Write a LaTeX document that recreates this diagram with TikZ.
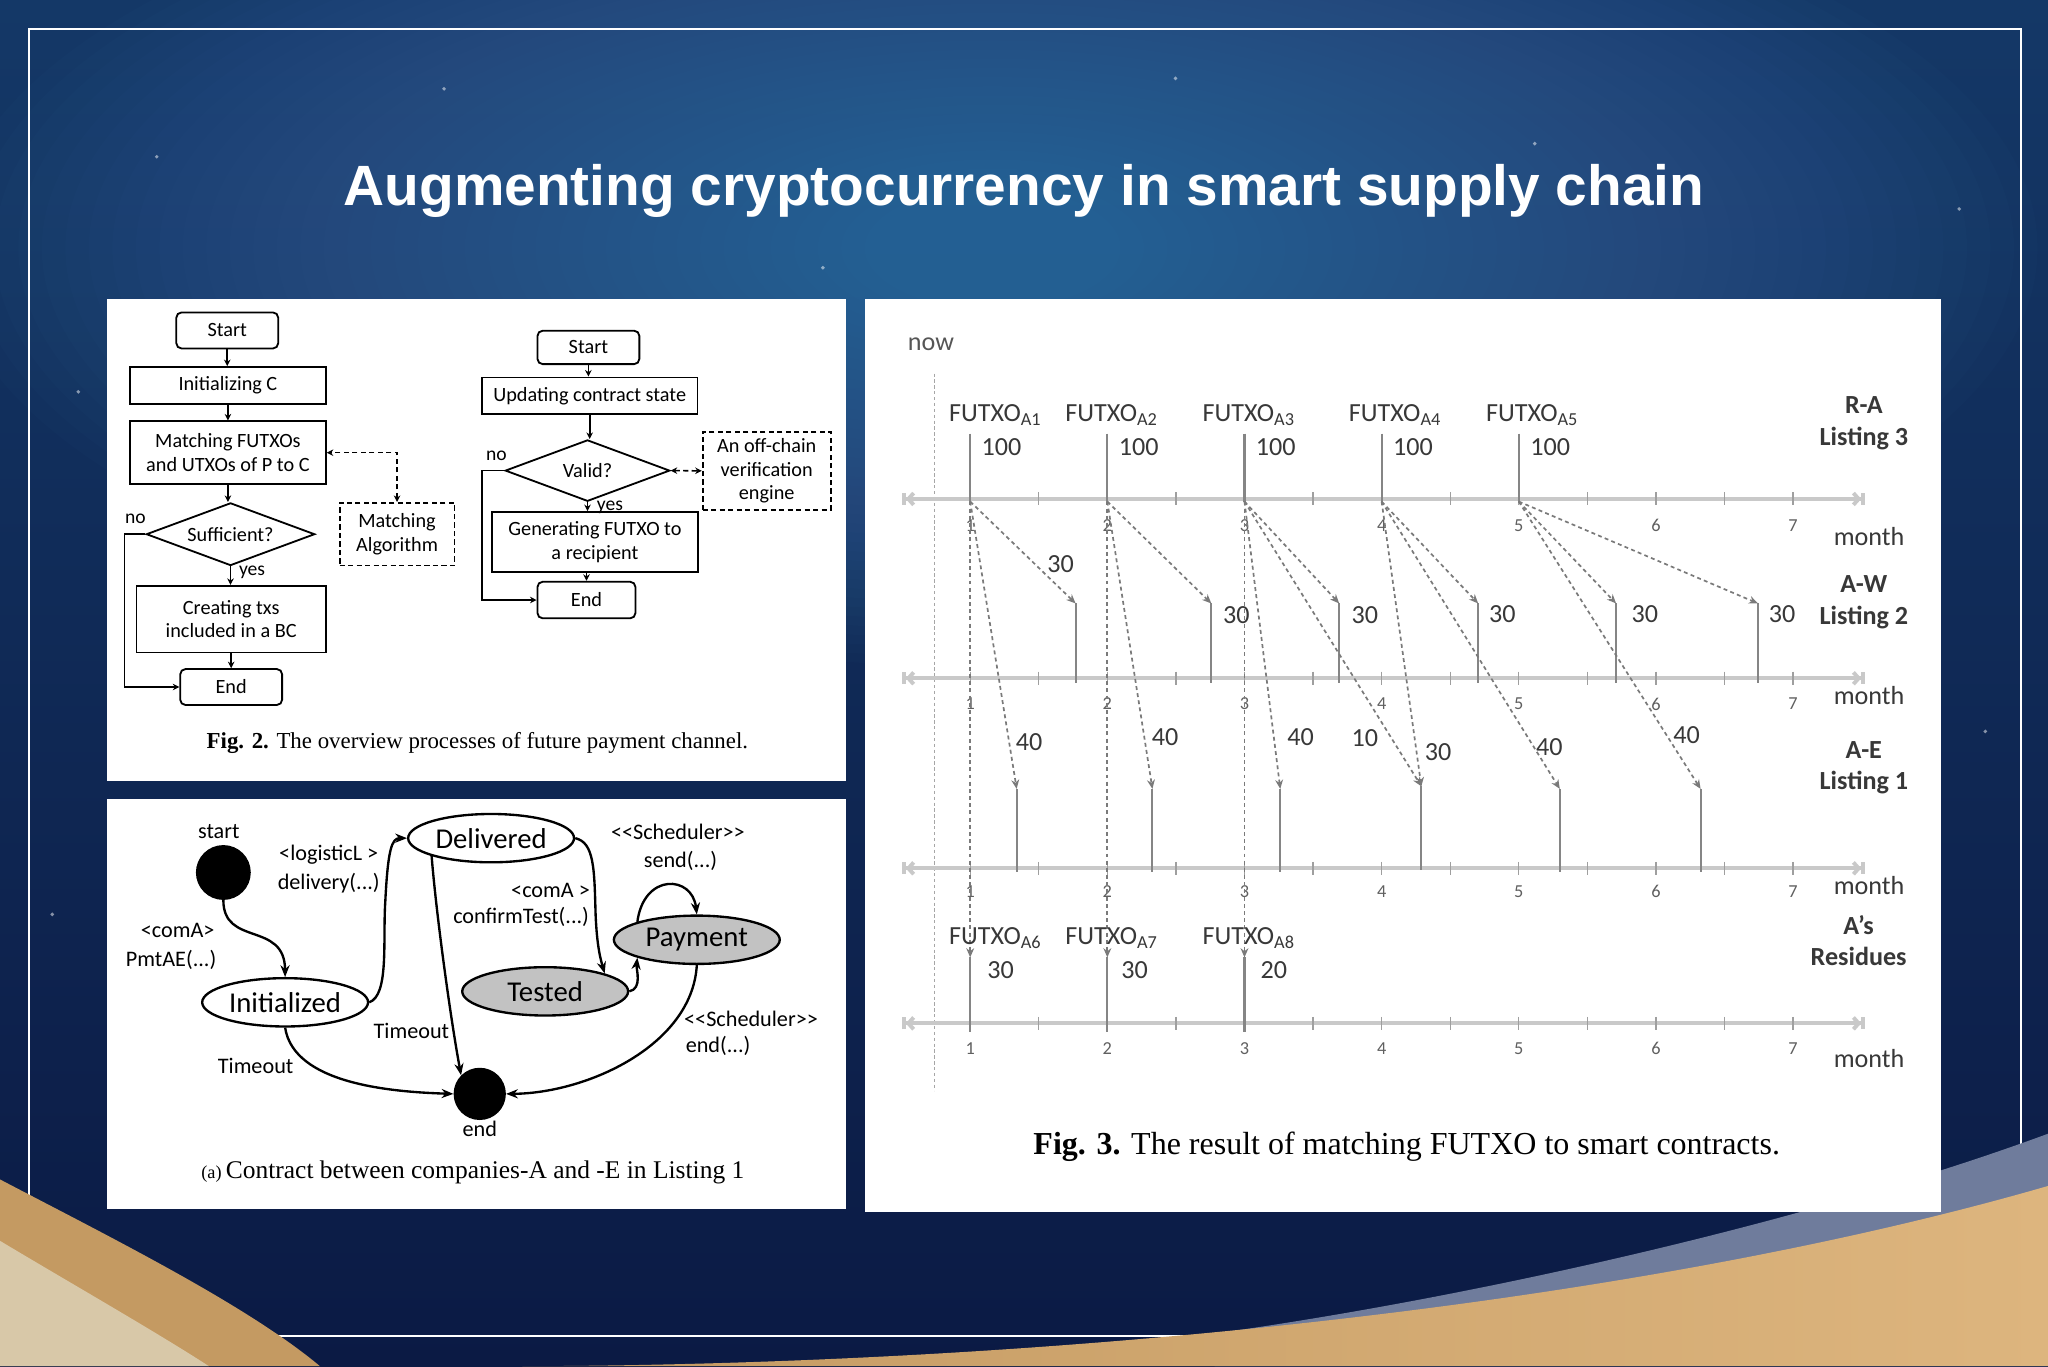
\documentclass[tikz,border=0pt]{standalone}
\usepackage{fontspec}
\setmainfont{Liberation Serif}
\newfontfamily\carl{Carlito}
\newfontfamily\arialf{Liberation Sans}
\usetikzlibrary{arrows.meta,shapes.geometric,calc}
\definecolor{bgtop}{HTML}{143867}
\definecolor{bgbot}{HTML}{0B1A44}
\definecolor{glowc}{HTML}{4D8FC8}
\definecolor{goldA}{HTML}{C49A62}
\definecolor{goldB}{HTML}{DDB57E}
\definecolor{beige}{HTML}{D8C8A8}
\definecolor{slate}{HTML}{6F7C9C}
\definecolor{stategray}{HTML}{C2C2C2}
\definecolor{chtext}{HTML}{383838}
\definecolor{axisc}{HTML}{C9C9C9}
\definecolor{vlc}{HTML}{858585}
\definecolor{dashc}{HTML}{7A7A7A}
\newcommand{\fsz}[1]{\fontsize{#1}{#1}\selectfont}
\begin{document}
\begin{tikzpicture}[x=1pt,y=-1pt,
  fc/.style={draw, line width=1.4pt, align=center, inner sep=1pt, font=\carl\fontsize{15.5}{18}\selectfont},
  fcr/.style={fc, rounded corners=4pt},
  fcd/.style={fc, dash pattern=on 4pt off 2.5pt},
  fdia/.style={fc, diamond, aspect=2.7, inner sep=0pt},
  farr/.style={line width=1.2pt, -{Stealth[length=5pt,width=5pt]}},
  fdarr/.style={line width=1.2pt, dash pattern=on 4pt off 2.5pt, {Stealth[length=5pt,width=5pt]}-{Stealth[length=5pt,width=5pt]}},
  flab/.style={font=\carl\fsz{15}, inner sep=0pt},
  st/.style={draw, ellipse, line width=1.8pt, font=\carl\fsz{22}, inner sep=0pt, minimum width=127pt, minimum height=37pt},
  sarr/.style={line width=1.8pt, -{Stealth[length=9pt,width=7pt]}},
  slab/.style={font=\carl\fsz{17}, inner sep=0pt, align=center},
  ct/.style={font=\carl\fsz{20}, text=chtext, inner sep=0pt},
  ctb/.style={font=\carl\bfseries\fontsize{20}{24}\selectfont, text=chtext, inner sep=0pt, align=center},
  mn/.style={font=\carl\fsz{14}, text=chtext!80, inner sep=0pt},
  axisline/.style={draw=axisc, line width=3pt, {Bar[width=9pt]Straight Barb[length=4pt,width=9pt]}-{Straight Barb[length=4pt,width=9pt]Bar[width=9pt]}},
  vl/.style={draw=vlc, line width=1.6pt},
  dar/.style={draw=dashc, line width=1.3pt, dash pattern=on 3pt off 2.5pt, -{Stealth[length=7pt,width=6pt]}},
  nowl/.style={draw=gray!70, line width=1.3pt, dash pattern=on 2.5pt off 2pt},
]
\useasboundingbox (0,0) rectangle (1568,1046);
% background
\shade[top color=bgtop, bottom color=bgbot] (0,0) rectangle (1568,1046);
\foreach \i in {0,...,39}{
  \pgfmathsetmacro\rx{800-\i*18}
  \pgfmathsetmacro\ry{320-\i*7}
  \fill[glowc, fill opacity=0.022] (760,190) ellipse [x radius=\rx, y radius=\ry];
}
\foreach \p in {(340,68),(630,205),(1175,110),(1500,160),(60,300),(1520,560),(120,120),(900,60),(1460,420),(40,700)}{
  \fill[white, fill opacity=0.5] \p circle [radius=1.5];
}
\draw[white, line width=1.6pt] (22,22) rectangle (1547,1023);
% gold swooshes
\fill[slate] (930,1021) .. controls (1150,990) and (1400,930) .. (1568,868) -- (1568,1046) -- (930,1046) -- cycle;
\shade[left color=goldA, right color=goldB] (400,1046) .. controls (800,1045) and (1250,1000) .. (1568,908) -- (1568,1046) -- cycle;
\fill[goldA] (0,903) .. controls (90,950) and (190,1000) .. (245,1046) -- (0,1046) -- cycle;
\fill[beige] (0,950) .. controls (50,980) and (120,1020) .. (160,1046) -- (0,1046) -- cycle;
% title
\node[font=\arialf\bfseries\fsz{43.5}, text=white, inner sep=0pt, anchor=base] (title) at (784,157) {Augmenting cryptocurrency in smart supply chain};
% panels
\fill[white] (82,229) rectangle (648,598);
\fill[white] (82,612) rectangle (648,926);
\fill[white] (662,229) rectangle (1486,928);

%%%%% Fig 2 left flowchart
\node[fcr, minimum width=78pt, minimum height=27.6pt] (s1) at (174,253) {Start};
\node[fc, minimum width=150pt, minimum height=28pt] (i1) at (174.5,295) {Initializing C};
\node[fc, minimum width=150pt, minimum height=48pt] (m1) at (174.5,346.6) {Matching FUTXOs\\and UTXOs of P to C};
\node[fdia, minimum width=129pt, minimum height=48pt] (d1) at (176.5,409) {Sufficient?};
\node[fc, minimum width=145pt, minimum height=51pt] (c1) at (177,474) {Creating txs\\included in a BC};
\node[fcr, minimum width=78pt, minimum height=27.5pt] (e1) at (177,526) {End};
\node[fcd, minimum width=88pt, minimum height=48pt] (ma) at (304,409) {Matching\\Algorithm};
\draw[farr] (s1.south) -- (s1.south |- i1.north);
\draw[farr] (i1.south) -- (i1.south |- m1.north);
\draw[farr] (m1.south) -- (m1.south |- d1.north);
\draw[farr] (d1.south) -- (d1.south |- c1.north);
\draw[farr] (c1.south) -- (c1.south |- e1.north);
\draw[farr] (d1.west) -- ++(-16,0) |- (e1.west);
\draw[fdarr] (ma.north) |- (m1.east);
\node[flab] (no1) at (103.6,397) {no};
\node[flab] (yes1) at (193,438) {yes};

%%%%% Fig 2 right flowchart
\node[fcr, minimum width=78pt, minimum height=25.6pt] (s2) at (450.5,266) {Start};
\node[fc, minimum width=165pt, minimum height=28pt] (u2) at (451.5,303) {Updating contract state};
\node[fdia, minimum width=126pt, minimum height=47pt] (d2) at (449.8,360.3) {Valid?};
\node[fc, minimum width=158pt, minimum height=46pt] (g2) at (455.5,415) {Generating FUTXO to\\a recipient};
\node[fcr, minimum width=75pt, minimum height=28pt] (e2) at (449,459.4) {End};
\node[fcd, minimum width=98pt, minimum height=60pt] (oc) at (587,360.5) {An off-chain\\verification\\engine};
\draw[farr] (s2.south) -- (s2.south |- u2.north);
\draw[farr] (u2.south) -- (u2.south |- d2.north);
\draw[farr] (d2.south) -- (d2.south |- g2.north);
\draw[farr] (g2.south -| e2.north) -- (e2.north);
\draw[farr] (d2.west) -- ++(-17,0) |- (e2.west);
\draw[fdarr] (d2.east) -- (oc.west);
\node[flab] (no2) at (380,349) {no};
\node[flab] (yes2) at (467,388.4) {yes};

\node[font=\fsz{17.5}, inner sep=0pt] (cap2) at (365.5,569) {\textbf{Fig. 2.} The overview processes of future payment channel.};

%%%%% State diagram
\node[circle, fill=black, minimum size=42pt, inner sep=0pt] (stt) at (171,668) {};
\node[slab] (sttl) at (167.5,636.5) {start};
\node[st] (ini) at (218.3,767.4) {Initialized};
\node[st] (del) at (376,641.7) {Delivered};
\node[st, fill=stategray] (tes) at (417.4,759) {Tested};
\node[st, fill=stategray] (pay) at (533.5,719.5) {Payment};
\node[circle, fill=black, minimum size=40pt, inner sep=0pt] (enn) at (367.3,837.5) {};
\node[slab] (ennl) at (367.3,864) {end};

\draw[sarr] (stt.south) .. controls (171,725) and (218,705) .. (ini.north);
\draw[sarr] (ini.east) .. controls (298,762) and (293,720) .. (295,690) .. controls (297,650) and (300,641.7) .. (del.west);
\draw[sarr] (del.south west) .. controls (334,700) and (345,780) .. (enn.north west);
\draw[sarr] (del.east) .. controls (455,645) and (455,665) .. (456,700) .. controls (457,725) and (460,735) .. (tes.north east);
\draw[sarr] (tes.east) .. controls (492,757) and (487,742) .. (pay.south west);
\draw[sarr] (pay.north west) .. controls (493,668) and (530,670) .. (pay.north);
\draw[sarr] (pay.south) .. controls (530,800) and (450,837) .. (enn.east);
\draw[sarr] (ini.south) .. controls (225,830) and (300,836) .. (enn.west);

\node[slab] (lcom) at (136,712.5) {<comA>};
\node[slab] (lpmt) at (131,735) {PmtAE(...)};
\node[slab] (llog) at (251.7,654) {<logisticL >};
\node[slab] (ldel) at (251.7,676) {delivery(...)};
\node[slab] (lsc1) at (519,637.2) {<{}<Scheduler>{}>};
\node[slab] (lsnd) at (521,659) {send(...)};
\node[slab] (lcoa) at (421.5,682) {<comA >};
\node[slab] (lcft) at (399,702.3) {confirmTest(...)};
\node[slab] (lto1) at (315,789) {Timeout};
\node[slab] (lto2) at (195.7,816) {Timeout};
\node[slab] (lsc2) at (575,780) {<{}<Scheduler>{}>};
\node[slab] (lend) at (549.8,800.5) {end(...)};

\node[font=\fsz{19.5}, inner sep=0pt] (capa) at (362,898) {{\fsz{14}(a)}\,Contract between companies-A and -E in Listing 1};

%%%%% Fig 3 chart
\node[ct, text=chtext!85] (now) at (712.8,263.4) {now};
\draw[nowl] (715.5,286) -- (715.5,835);

\foreach \y/\k/\ny/\my in {382/1/402.4/411, 519.3/2/539/532.6, 664.8/3/682.7/677.6, 783.5/4/802.6/810.3}{
  \draw[axisline] (690.5,\y) -- (1428,\y);
  \foreach \j in {0,...,12}{
    \draw[draw=gray!75, line width=1pt] ({742.8+\j*52.5},{\y-5}) -- ++(0,10);
  }
  \foreach \m in {1,...,7}{
    \node[mn] (num\k-\m) at ({742.8+(\m-1)*105},\ny) {\m};
  }
  \node[ct] (mon\k) at (1431,\my) {month};
}

\node[ctb] (lra) at (1427,324) {R-A\\Listing 3};
\node[ctb] (law) at (1427,461) {A-W\\Listing 2};
\node[ctb] (lae) at (1427,588) {A-E\\Listing 1};
\node[ctb] (lres) at (1423,720) {A’s\\Residues};

% coordinates
\foreach \m in {1,...,5}{
  \coordinate (ra\m) at ({742.8+(\m-1)*105},384);
  \coordinate (ft\m) at ({742.8+(\m-1)*105},332);
}
\coordinate (aw1) at (823.5,462);
\coordinate (aw2) at (927.4,462);
\coordinate (aw3) at (1025.3,462);
\coordinate (aw4) at (1131.7,462);
\coordinate (aw5) at (1237.3,462);
\coordinate (aw6) at (1345.9,462);
\coordinate (ae1) at (778.4,604);
\coordinate (ae2) at (882.3,604);
\coordinate (ae3) at (980.2,604);
\coordinate (ae4) at (1088.2,602);
\coordinate (ae5) at (1194.2,604);
\coordinate (ae6) at (1302,604);
\coordinate (rs1) at (742.8,733);
\coordinate (rs2) at (847.8,733);
\coordinate (rs3) at (952.8,733);

% FUTXO top
\foreach \m/\cx in {1/762,2/851,3/956,4/1068,5/1173}{
  \node[ct] (fl\m) at (\cx,318) {FUTXO\textsubscript{A\m}};
  \node[ct] (hv\m) at ({742.8+(\m-1)*105+24},342.5) {100};
  \draw[vl] (ft\m) -- (ra\m);
}
% vertical solid lines
\foreach \i in {1,...,6}{
  \draw[vl] (aw\i) -- ++(0,61);
  \draw[vl] (ae\i) -- ++(0,64);
}
\foreach \i in {1,2,3}{
  \draw[vl] (rs\i) -- ++(0,57);
}
% dashed arrows
\draw[dar] (ra1) -- (aw1);
\draw[dar] (ra1) -- (ae1);
\draw[dar] (ra1) -- (rs1);
\draw[dar] (ra2) -- (aw2);
\draw[dar] (ra2) -- (ae2);
\draw[dar] (ra2) -- (rs2);
\draw[dar] (ra3) -- (aw3);
\draw[dar] (ra3) -- (ae3);
\draw[dar] (ra3) -- (ae4);
\draw[dar] (ra3) -- (rs3);
\draw[dar] (ra4) -- (aw4);
\draw[dar] (ra4) -- (ae4);
\draw[dar] (ra4) -- (ae5);
\draw[dar] (ra5) -- (aw5);
\draw[dar] (ra5) -- (aw6);
\draw[dar] (ra5) -- (ae6);

% amount labels
\node[ct] (w1l) at (812,432) {30};
\node[ct] (w2l) at (946.5,471) {30};
\node[ct] (w3l) at (1045,471) {30};
\node[ct] (w4l) at (1150.3,470) {30};
\node[ct] (w5l) at (1259.4,470) {30};
\node[ct] (w6l) at (1364.5,470) {30};
\node[ct] (e1l) at (788,568) {40};
\node[ct] (e2l) at (892,564) {40};
\node[ct] (e3l) at (995.7,564) {40};
\node[ct] (e4l) at (1045,565.3) {10};
\node[ct] (e5l) at (1101,575.5) {30};
\node[ct] (e6l) at (1186.2,571.7) {40};
\node[ct] (e7l) at (1291.3,562.8) {40};

% residues
\node[ct] (fr6) at (762,718.4) {FUTXO\textsubscript{A6}};
\node[ct] (fr7) at (851,718.4) {FUTXO\textsubscript{A7}};
\node[ct] (fr8) at (956,718.4) {FUTXO\textsubscript{A8}};
\node[ct] (r1l) at (766,742.7) {30};
\node[ct] (r2l) at (868.6,742.7) {30};
\node[ct] (r3l) at (975.2,742.7) {20};

\node[font=\fsz{24.5}, inner sep=0pt] (cap3) at (1077,878) {\textbf{Fig. 3.} The result of matching FUTXO to smart contracts.};
\end{tikzpicture}
\end{document}
